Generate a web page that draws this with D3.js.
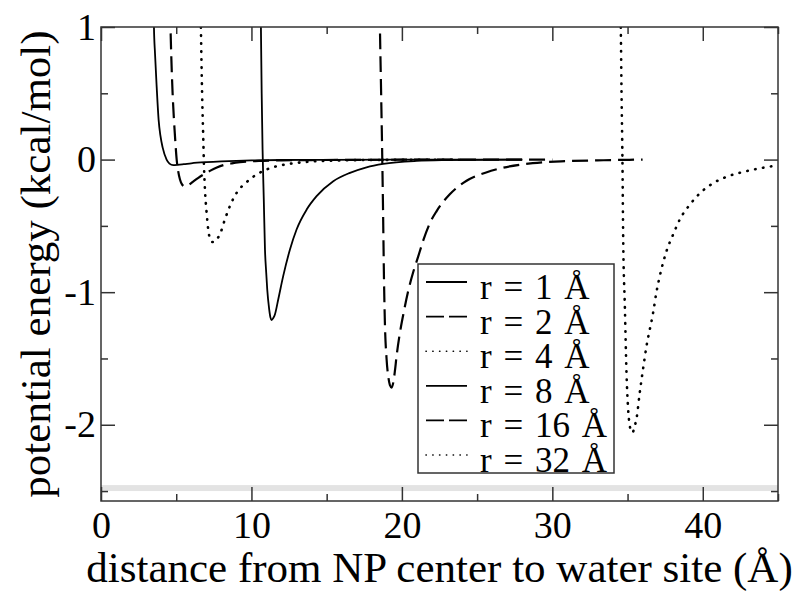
<!DOCTYPE html>
<html>
<head>
<meta charset="utf-8">
<script src="https://cdn.jsdelivr.net/npm/d3@7"></script>
<style>
body { margin: 0; background: #fff; }
text { font-family: "Liberation Serif", "Times New Roman", serif; }
</style>
</head>
<body>
<div id="root"></div>
<script>
var width = 804;
var height = 595;

/* curves, [distance (A), energy (kcal/mol)] */
var r1 = [[3.48,1.3],[3.52,1.0],[3.59,0.8],[3.7,0.55],[3.83,0.3],[3.95,0.18],[4.1,0.09],[4.36,0.0],[4.55,-0.03],[4.8,-0.042],[5.1,-0.04],[5.5,-0.035],[6.0,-0.028],[7.0,-0.019],[8.0,-0.013],[9.0,-0.009],[10.0,-0.006],[12.0,-0.003],[15.0,-0.0015],[20.0,-0.0005],[28.0,0]];
var r2 = [[4.57,1.3],[4.62,1.0],[4.68,0.75],[4.76,0.5],[4.85,0.3],[4.95,0.12],[5.03,0.0],[5.12,-0.08],[5.25,-0.15],[5.4,-0.19],[5.58,-0.203],[5.8,-0.193],[6.1,-0.168],[6.47,-0.138],[6.85,-0.11],[7.24,-0.085],[7.7,-0.06],[8.13,-0.042],[8.7,-0.028],[9.24,-0.019],[10.5,-0.01],[12,-0.006],[14,-0.0035],[17,-0.002],[20,-0.001],[25,-0.0004],[30,0]];
var r4 = [[6.6,1.3],[6.64,1.0],[6.72,0.5],[6.8,0.15],[6.84,-0.03],[6.91,-0.226],[7.02,-0.4],[7.13,-0.53],[7.24,-0.595],[7.4,-0.622],[7.55,-0.62],[7.7,-0.6],[7.9,-0.565],[8.24,-0.45],[8.57,-0.35],[9.02,-0.25],[9.68,-0.17],[10.45,-0.105],[11.23,-0.065],[12.0,-0.042],[12.8,-0.028],[14.3,-0.012],[16,-0.006],[18,-0.003],[21,-0.0015],[24,-0.001]];
var r8 = [[10.6,1.3],[10.63,1.0],[10.68,0.5],[10.74,0.075],[10.82,-0.3],[10.9,-0.68],[10.98,-0.85],[11.05,-0.98],[11.18,-1.13],[11.26,-1.19],[11.34,-1.21],[11.45,-1.195],[11.56,-1.168],[11.78,-1.055],[12.11,-0.879],[12.56,-0.678],[13.0,-0.527],[13.67,-0.377],[14.33,-0.276],[15.44,-0.163],[16.55,-0.1],[17.65,-0.058],[18.76,-0.032],[20.98,-0.01],[23,-0.004],[25,-0.002],[28,0]];
var r16 = [[18.5,1.3],[18.54,1.0],[18.62,0.5],[18.69,0.05],[18.75,-0.4],[18.81,-0.9],[18.87,-1.23],[18.98,-1.5],[19.1,-1.64],[19.2,-1.7],[19.32,-1.72],[19.43,-1.68],[19.53,-1.6],[19.65,-1.48],[19.85,-1.32],[20.09,-1.17],[20.4,-1.0],[20.75,-0.85],[21.06,-0.74],[21.42,-0.61],[21.9,-0.47],[22.3,-0.39],[23.2,-0.26],[24.3,-0.16],[25.6,-0.097],[26.7,-0.062],[28.7,-0.027],[30.9,-0.012],[33.4,-0.005],[36,0]];
var r32 = [[34.5,1.3],[34.55,1.0],[34.6,0.5],[34.66,0.0],[34.71,-0.6],[34.82,-1.105],[34.93,-1.61],[35.04,-1.884],[35.15,-2.01],[35.25,-2.05],[35.33,-2.06],[35.45,-2.02],[35.6,-1.95],[35.81,-1.758],[36.03,-1.58],[36.26,-1.407],[36.48,-1.28],[36.7,-1.155],[36.92,-1.0],[37.14,-0.88],[37.59,-0.69],[38.03,-0.565],[38.47,-0.452],[39.14,-0.34],[39.8,-0.255],[40.69,-0.178],[41.58,-0.13],[42.68,-0.093],[43.79,-0.066],[45,-0.043]];

var seriesData = [r1, r2, r4, r8, r16, r32];
var seriesNames = ["r = 1 Å", "r = 2 Å", "r = 4 Å", "r = 8 Å", "r = 16 Å", "r = 32 Å"];
var seriesStyle = ["solid", "dash", "dot", "solid", "dash", "dot"];

var xTicks = [0, 10, 20, 30, 40];
var xMinor = [5, 15, 25, 35, 45];
var yTicks = [-2, -1, 0, 1];
var yMinor = [-2.5, -1.5, -0.5, 0.5];
var xDomain = [0, 45];
var yDomain = [-2.575, 1];
var bandRange = [-2.455, -2.5]; // light grey strip near the bottom

/* plot box (don't call it "top": window.top is read-only) */
var pLeft = 101, pRight = 778, pTop = 27, pBottom = 501;

var dashArr = { solid: "none", dash: "16,7", dot: "0.5,7.5" };
var strokeW = { solid: 1.8, dash: 2.2, dot: 2.6 };

var svg = d3.select("#root")
.append("svg")
.attr("width", width)
.attr("height", height);

var x = d3.scaleLinear().domain(xDomain).range([pLeft, pRight]);
var y = d3.scaleLinear().domain(yDomain).range([pBottom, pTop]);

svg.append("clipPath")
.attr("id", "plotclip")
.append("rect")
.attr("x", pLeft)
.attr("y", pTop)
.attr("width", pRight - pLeft)
.attr("height", pBottom - pTop);

/* grey strip */
svg.append("rect")
.attr("x", pLeft)
.attr("y", y(bandRange[0]))
.attr("width", pRight - pLeft)
.attr("height", y(bandRange[1]) - y(bandRange[0]))
.attr("fill", "#e3e3e3");

var line = d3.line()
.x(function(d) { return x(d[0]); })
.y(function(d) { return y(d[1]); })
.curve(d3.curveMonotoneX);

svg.append("g")
.attr("clip-path", "url(#plotclip)")
.selectAll("path")
.data(seriesData)
.enter()
.append("path")
.attr("d", line)
.attr("fill", "none")
.attr("stroke", "#000")
.attr("stroke-width", function(d, i) { return strokeW[seriesStyle[i]]; })
.attr("stroke-linecap", function(d, i) { return seriesStyle[i] == "dot" ? "round" : "butt"; })
.attr("stroke-dasharray", function(d, i) { return dashArr[seriesStyle[i]]; });

/* axes, ticks point inward */
function styleAxis(g) {
	g.select(".domain").remove();
	g.selectAll("line").attr("stroke", "#333").attr("stroke-width", 1.5);
	g.selectAll("text").attr("font-size", "38px").attr("fill", "#000").attr("font-family", "Liberation Serif, serif");
}

svg.append("g")
.attr("transform", "translate(0," + pBottom + ")")
.call(d3.axisBottom(x).tickValues(xTicks).tickSize(-14).tickPadding(10).tickFormat(d3.format("d")))
.call(styleAxis);
svg.append("g")
.attr("transform", "translate(0," + pBottom + ")")
.call(d3.axisBottom(x).tickValues(xMinor).tickSize(-7).tickFormat(""))
.call(styleAxis);
svg.append("g")
.attr("transform", "translate(0," + pTop + ")")
.call(d3.axisTop(x).tickValues(xTicks).tickSize(-14).tickFormat(""))
.call(styleAxis);
svg.append("g")
.attr("transform", "translate(0," + pTop + ")")
.call(d3.axisTop(x).tickValues(xMinor).tickSize(-7).tickFormat(""))
.call(styleAxis);

svg.append("g")
.attr("transform", "translate(" + pLeft + ",0)")
.call(d3.axisLeft(y).tickValues(yTicks).tickSize(-14).tickPadding(5).tickFormat(function(d) { return String(d); }))
.call(styleAxis);
svg.append("g")
.attr("transform", "translate(" + pLeft + ",0)")
.call(d3.axisLeft(y).tickValues(yMinor).tickSize(-7).tickFormat(""))
.call(styleAxis);
svg.append("g")
.attr("transform", "translate(" + pRight + ",0)")
.call(d3.axisRight(y).tickValues(yTicks).tickSize(-14).tickFormat(""))
.call(styleAxis);
svg.append("g")
.attr("transform", "translate(" + pRight + ",0)")
.call(d3.axisRight(y).tickValues(yMinor).tickSize(-7).tickFormat(""))
.call(styleAxis);

/* frame */
svg.append("rect")
.attr("x", pLeft)
.attr("y", pTop)
.attr("width", pRight - pLeft)
.attr("height", pBottom - pTop)
.attr("fill", "none")
.attr("stroke", "#333")
.attr("stroke-width", 1.5);

/* axis titles */
svg.append("text")
.attr("x", (pLeft + pRight) / 2)
.attr("y", 582)
.attr("text-anchor", "middle")
.attr("font-size", "43px")
.text("distance from NP center to water site (Å)");

svg.append("text")
.attr("transform", "translate(50," + ((pTop + pBottom) / 2) + ") rotate(-90)")
.attr("text-anchor", "middle")
.attr("font-size", "43px")
.text("potential energy (kcal/mol)");

/* legend */
var legend = svg.append("g");
legend.append("rect")
.attr("x", 418)
.attr("y", 264)
.attr("width", 196)
.attr("height", 209)
.attr("fill", "#fff")
.attr("stroke", "#333")
.attr("stroke-width", 1.5);

var rowH = 34.6;
var items = legend.selectAll("g.item")
.data(seriesNames)
.enter()
.append("g")
.attr("class", "item")
.attr("transform", function(d, i) { return "translate(0," + (299 + i * rowH) + ")"; });

items.append("line")
.attr("x1", 426)
.attr("x2", 467)
.attr("y1", -17)
.attr("y2", -17)
.attr("stroke", "#000")
.attr("stroke-width", function(d, i) { return seriesStyle[i] == "dot" ? 1.6 : 1.8; })
.attr("stroke-linecap", function(d, i) { return seriesStyle[i] == "dot" ? "round" : "butt"; })
.attr("stroke-dasharray", function(d, i) {
	var s = seriesStyle[i];
	return s == "dash" ? "18,5" : (s == "dot" ? "0.3,6.5" : "none");
});

items.append("text")
.attr("x", 480)
.attr("font-size", "35px")
.attr("word-spacing", "3px")
.text(function(d) { return d; });
</script>
</body>
</html>
